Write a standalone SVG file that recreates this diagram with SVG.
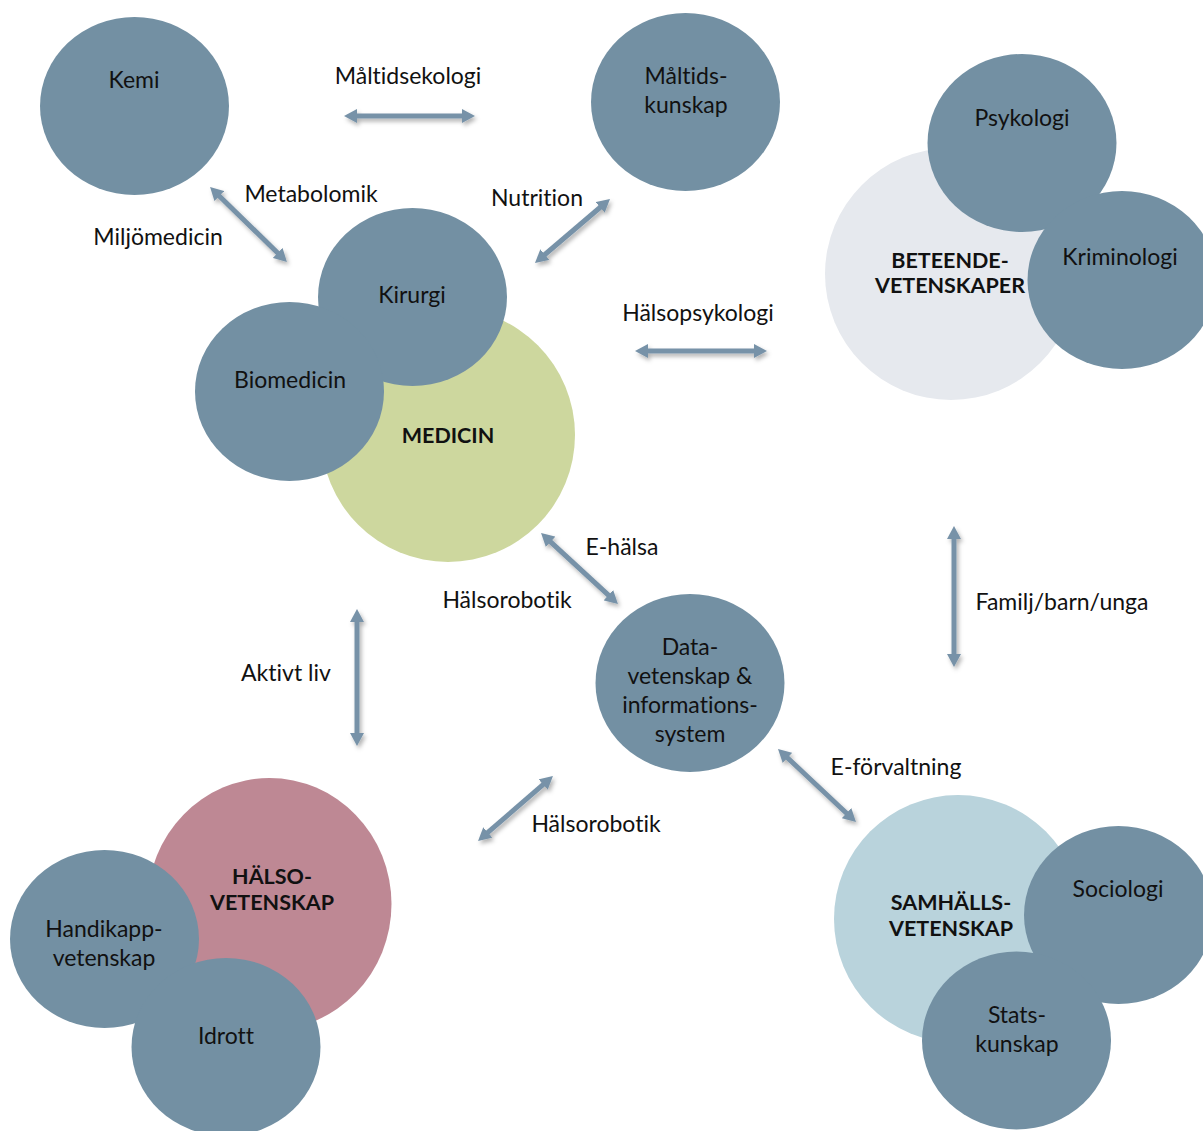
<svg xmlns="http://www.w3.org/2000/svg" width="1203" height="1131" viewBox="0 0 1203 1131">
<style>
text{font-family:Lato,"Open Sans","Liberation Sans",sans-serif;font-size:23px;fill:#111;text-anchor:middle;font-variant-ligatures:none;font-feature-settings:"liga" 0,"dlig" 0}
.b{font-weight:bold;font-size:21.5px}
.sub{fill:#7390A3}
.arr{stroke:#7792A8;stroke-width:5;fill:none;marker-start:url(#ah);marker-end:url(#ah)}
</style>
<defs>
<marker id="ah" markerUnits="userSpaceOnUse" markerWidth="14" markerHeight="14" viewBox="0 0 14 14" refX="3" refY="7" orient="auto-start-reverse">
<path d="M0,0 L13,7 L0,14 z" fill="#7792A8"/>
</marker>
<filter id="sh" x="-20%" y="-20%" width="140%" height="140%">
<feDropShadow dx="2" dy="3" stdDeviation="2" flood-color="#000" flood-opacity="0.3"/>
</filter>
</defs>
<rect width="1203" height="1131" fill="#fff"/>

<g id="kemi"><ellipse class="sub" cx="134.5" cy="106" rx="94.5" ry="89"/><text x="134" y="88">Kemi</text></g>
<g id="maltidskunskap"><ellipse class="sub" cx="685.5" cy="102" rx="94.5" ry="89"/><text x="686" y="84">Måltids-</text><text x="686" y="113">kunskap</text></g>

<g id="beteendevetenskaper">
<circle cx="951" cy="274" r="126" fill="#E6E9EE"/>
<ellipse id="psykologi" class="sub" cx="1022" cy="143" rx="94.5" ry="89"/>
<ellipse id="kriminologi" class="sub" cx="1122" cy="280" rx="94.5" ry="89"/>
<text class="b" x="950" y="268">BETEENDE-</text><text class="b" x="950" y="293">VETENSKAPER</text>
<text x="1022" y="126">Psykologi</text>
<text x="1120" y="265">Kriminologi</text>
</g>

<g id="medicin">
<circle cx="448" cy="435" r="127" fill="#CDD79E"/>
<ellipse id="kirurgi" class="sub" cx="412.5" cy="297" rx="94.5" ry="89"/>
<ellipse id="biomedicin" class="sub" cx="289.5" cy="391.5" rx="94.5" ry="89.5"/>
<text x="412" y="303">Kirurgi</text>
<text x="290" y="388">Biomedicin</text>
<text class="b" x="448" y="443">MEDICIN</text>
</g>

<g id="datavetenskap"><ellipse class="sub" cx="690" cy="683" rx="94.5" ry="89"/>
<text x="690" y="655">Data-</text><text x="690" y="684">vetenskap &amp;</text><text x="690" y="713">informations-</text><text x="690" y="742">system</text></g>

<g id="halsovetenskap">
<ellipse cx="269.5" cy="904" rx="122" ry="126" fill="#BE8894"/>
<ellipse id="handikapp" class="sub" cx="104.5" cy="939" rx="94.5" ry="89"/>
<ellipse id="idrott" class="sub" cx="226" cy="1047" rx="94.5" ry="89"/>
<text class="b" x="272" y="884">HÄLSO-</text><text class="b" x="272" y="910">VETENSKAP</text>
<text x="104" y="937">Handikapp-</text><text x="104" y="966">vetenskap</text>
<text x="226" y="1044">Idrott</text>
</g>

<g id="samhallsvetenskap">
<circle cx="958" cy="919" r="124" fill="#B9D3DC"/>
<ellipse id="sociologi" class="sub" cx="1118.5" cy="915" rx="94.5" ry="89"/>
<ellipse id="statskunskap" class="sub" cx="1016.5" cy="1040.5" rx="94.5" ry="89"/>
<text class="b" x="951" y="910">SAMHÄLLS-</text><text class="b" x="951" y="936">VETENSKAP</text>
<text x="1118" y="897">Sociologi</text>
<text x="1017" y="1023">Stats-</text><text x="1017" y="1052">kunskap</text>
</g>

<g id="connectors" filter="url(#sh)">
<line class="arr" x1="354" y1="116" x2="465" y2="116"/>
<line class="arr" x1="217.2" y1="194" x2="279.8" y2="255"/>
<line class="arr" x1="602.4" y1="205.5" x2="542.6" y2="256.5"/>
<line class="arr" x1="645" y1="351" x2="757" y2="351"/>
<line class="arr" x1="548.4" y1="539.8" x2="610.6" y2="597.2"/>
<line class="arr" x1="357" y1="619" x2="357" y2="736"/>
<line class="arr" x1="545.4" y1="782.6" x2="485.6" y2="834.4"/>
<line class="arr" x1="785.3" y1="755.8" x2="848.7" y2="815.2"/>
<line class="arr" x1="954" y1="536" x2="954" y2="657"/>
</g>

<g id="connector-labels">
<text x="408" y="84">Måltidsekologi</text>
<text x="311" y="202">Metabolomik</text>
<text x="158" y="245">Miljömedicin</text>
<text x="537" y="206">Nutrition</text>
<text x="698" y="321">Hälsopsykologi</text>
<text x="622" y="555">E-hälsa</text>
<text x="507" y="608">Hälsorobotik</text>
<text x="286" y="681">Aktivt liv</text>
<text x="1062" y="610">Familj/barn/unga</text>
<text x="896" y="775">E-förvaltning</text>
<text x="596" y="832">Hälsorobotik</text>
</g>
</svg>
